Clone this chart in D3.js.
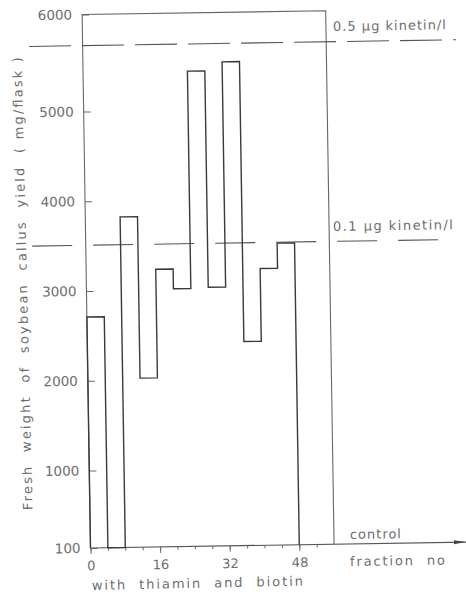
<!DOCTYPE html>
<html>
<head>
<meta charset="utf-8">
<script src="https://cdn.jsdelivr.net/npm/d3@7"></script>
<style>
  body { margin: 0; background: #fff; }
  text { font-family: "DejaVu Sans", sans-serif; fill: #6e6e6e; }
</style>
</head>
<body>
<svg id="chart" width="466" height="596"></svg>
<script>
// fraction number where each 4-fraction pool starts, and its callus yield (mg/flask)
var fractionStart = [0, 4, 8, 12, 16, 20, 24, 28, 32, 36, 40, 44];
var callusYield = [2710, 0, 3820, 2020, 3230, 3010, 5400, 3020, 5490, 2410, 3220, 3500];
var poolWidth = 4;
var controlFraction = 56;
var controlYield = 6000;

// kinetin reference levels (mg/flask)
var kinetinYield = [3510, 5680];
var kinetinLabels = ["0.1 \u00b5g kinetin/l", "0.5 \u00b5g kinetin/l"];

var yTicks = [100, 1000, 2000, 3000, 4000, 5000, 6000];
var xTicksMajor = [0, 16, 32, 48];
var xTicksMinor = [0, 4, 8, 12, 16, 20, 24, 28, 32, 36, 40, 44, 48, 52];

var svg = d3.select("#chart");

// the scanned figure is tilted a little, so the plot is turned about its origin
var tilt = -0.9;
var x = d3.scaleLinear().domain([0, 48]).range([90.5, 299.3]);
var y = d3.scaleLinear()
    .domain([100, 1000, 5000, 6000])
    .range([548, 470.5, 111.5, 14.5])
    .clamp(true);

var g = svg.append("g")
    .attr("transform", "rotate(" + tilt + "," + x(0) + "," + y(100) + ")");

svg.append("defs").append("marker")
    .attr("id", "arrow")
    .attr("viewBox", "0 0 12 6")
    .attr("refX", 12).attr("refY", 3)
    .attr("markerWidth", 12).attr("markerHeight", 6)
    .attr("markerUnits", "userSpaceOnUse")
    .attr("orient", "auto")
    .append("path")
    .attr("d", "M0,1L12,3L0,5Z")
    .attr("fill", "#444");

// frame: y axis, 6000 line and the control line
g.append("path")
    .attr("d", d3.line()([
        [x(0), y(100)], [x(0), y(controlYield)],
        [x(controlFraction), y(controlYield)], [x(controlFraction), y(100)]
    ]))
    .attr("fill", "none")
    .attr("stroke", "#666")
    .attr("stroke-width", 1.1);

// baseline with arrow
g.append("line")
    .attr("x1", x(0)).attr("y1", y(100))
    .attr("x2", 466).attr("y2", y(100))
    .attr("stroke", "#555")
    .attr("stroke-width", 1.1)
    .attr("marker-end", "url(#arrow)");

// y axis ticks pointing inward
var yAxis = g.append("g")
    .attr("transform", "translate(" + x(0) + ",0)")
    .call(d3.axisLeft(y).tickValues(yTicks).tickFormat(d3.format("d"))
        .tickSizeInner(-7).tickSizeOuter(0).tickPadding(10));
yAxis.select(".domain").remove();
yAxis.selectAll("line").attr("stroke", "#666");
yAxis.selectAll("text").style("font-size", "13.5px").attr("fill", "#6e6e6e");

// x axis: minor ticks, then major ticks with labels
var xMinor = g.append("g")
    .attr("transform", "translate(0," + y(100) + ")")
    .call(d3.axisBottom(x).tickValues(xTicksMinor).tickSizeInner(3).tickSizeOuter(0).tickFormat(""));
xMinor.select(".domain").remove();
xMinor.selectAll("line").attr("stroke", "#666");

var xMajor = g.append("g")
    .attr("transform", "translate(0," + y(100) + ")")
    .call(d3.axisBottom(x).tickValues(xTicksMajor).tickSizeInner(6).tickSizeOuter(0).tickPadding(7));
xMajor.select(".domain").remove();
xMajor.selectAll("line").attr("stroke", "#666");
xMajor.selectAll("text").style("font-size", "13px").attr("fill", "#6e6e6e");

// kinetin reference lines
var dashes = ["40,21", "42,11"];
g.selectAll(".kinetin")
    .data(kinetinYield)
    .enter()
    .append("line")
    .attr("class", "kinetin")
    .attr("x1", 37).attr("x2", 464)
    .attr("y1", function(d){ return y(d); })
    .attr("y2", function(d){ return y(d); })
    .attr("stroke", "#555")
    .attr("stroke-width", 1.1)
    .attr("stroke-dasharray", function(d, i){ return dashes[i]; });

// step outline of the fractions
var pts = [[fractionStart[0], 0]];
fractionStart.forEach(function(f, i){ pts.push([f, callusYield[i]]); });
pts.push([fractionStart[fractionStart.length - 1] + poolWidth, 0]);

g.append("path")
    .attr("d", d3.line()
        .x(function(d){ return x(d[0]); })
        .y(function(d){ return y(d[1]); })
        .curve(d3.curveStepAfter)(pts))
    .attr("fill", "none")
    .attr("stroke", "#3a3a3a")
    .attr("stroke-width", 1.4);

// labels (placed where they sit in the scan)
function label(px, py, str, len, angle, size, anchor) {
  svg.append("text")
    .attr("transform", "translate(" + px + "," + py + ") rotate(" + angle + ")")
    .attr("text-anchor", anchor || "start")
    .attr("textLength", len)
    .attr("lengthAdjust", "spacing")
    .style("font-size", size + "px")
    .style("white-space", "pre")
    .text(str);
}

label(333, 31, kinetinLabels[1], 113, -0.9, 13);
label(333, 231, kinetinLabels[0], 120, -0.9, 13);
label(350, 539, "control", 51, -0.9, 13);
label(350, 566, "fraction  no", 95, -0.9, 13);
label(92, 590, "with  thiamin  and  biotin", 211, -1.2, 13);
label(27, 283.5, "Fresh  weight  of  soybean  callus  yield  ( mg/flask )", 453, -91.4, 13, "middle");
</script>
</body>
</html>
